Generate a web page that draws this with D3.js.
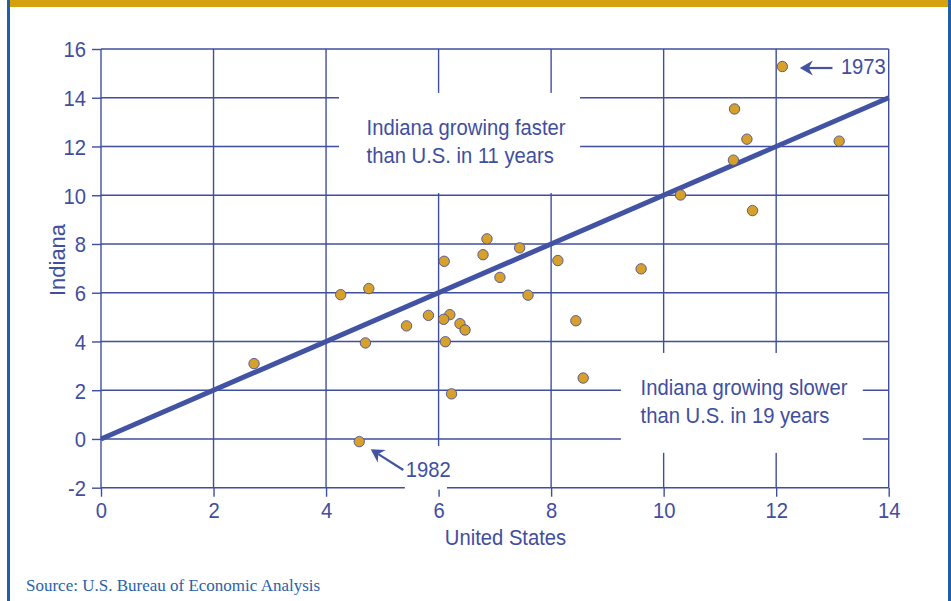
<!DOCTYPE html>
<html>
<head>
<meta charset="utf-8">
<script src="https://cdn.jsdelivr.net/npm/d3@7"></script>
<style>
  html, body { margin: 0; padding: 0; background: #fff; }
  svg { display: block; }
</style>
</head>
<body>
<svg id="chart" width="951" height="601"></svg>
<script>
// ---- Data ----
const usGrowth = [2.72, 4.26, 4.76, 4.70, 4.59, 5.43, 5.82, 6.10, 6.20, 6.09, 6.38, 6.47, 6.12, 6.23, 6.79,
                  6.86, 7.44, 7.09, 7.59, 8.12, 8.44, 8.57, 9.60, 10.30, 11.58, 11.24, 11.48, 11.26, 13.12, 12.11];
const indianaGrowth = [3.09, 5.92, 6.17, 3.94, -0.11, 4.64, 5.07, 7.29, 5.10, 4.91, 4.73, 4.47, 3.99, 1.85, 7.56,
                       8.21, 7.84, 6.63, 5.90, 7.32, 4.85, 2.50, 6.98, 10.01, 9.37, 11.44, 12.30, 13.54, 12.22, 15.28];
const xTicks = [0, 2, 4, 6, 8, 10, 12, 14];
const yTicks = [-2, 0, 2, 4, 6, 8, 10, 12, 14, 16];
const xTickLabels = ["0", "2", "4", "6", "8", "10", "12", "14"];
const yTickLabels = ["-2", "0", "2", "4", "6", "8", "10", "12", "14", "16"];
const equalLine = [[0, 0], [14, 14]];
const xTitle = "United States";
const yTitle = "Indiana";
const fasterLabel = ["Indiana growing faster", "than U.S. in 11 years"];
const slowerLabel = ["Indiana growing slower", "than U.S. in 19 years"];
const label1973 = "1973";
const label1982 = "1982";
const sourceText = "Source: U.S. Bureau of Economic Analysis";

// ---- Styles ----
const BLUE = "#3f4e9f";
const LINE_BLUE = "#4353a4";
const GOLD = "#d5a10f";
const DOT = "#d6a02a";
const BORDER = "#1f5ea8";
const SX = 0.92; // horizontal condensing of the sans text

const svg = d3.select("#chart");
const W = 951, H = 601;

// frame decorations
svg.append("rect").attr("x", 0).attr("y", 0).attr("width", W).attr("height", H).attr("fill", "#fff");
svg.append("rect").attr("x", 10).attr("y", 0).attr("width", W - 13).attr("height", 7).attr("fill", GOLD);
svg.append("rect").attr("x", 7).attr("y", 0).attr("width", 3).attr("height", H).attr("fill", BORDER);
svg.append("rect").attr("x", 948).attr("y", 0).attr("width", 3).attr("height", H).attr("fill", BORDER);

const x = d3.scaleLinear().domain([0, 14]).range([101, 888.7]);
const y = d3.scaleLinear().domain([-2, 16]).range([487.7, 49]);

const font = "'Liberation Sans', Arial, Helvetica, sans-serif";

function sansText(g, px, py, str, size, anchor, sx) {
  return g.append("text")
    .attr("transform", `translate(${px},${py}) scale(${sx},1)`)
    .attr("font-family", font)
    .attr("font-size", size)
    .attr("fill", BLUE)
    .attr("text-anchor", anchor)
    .text(str);
}

// grid
const grid = svg.append("g").attr("stroke", BLUE).attr("stroke-width", 1.4);
grid.selectAll("line.v").data(xTicks).join("line")
  .attr("x1", d => x(d)).attr("x2", d => x(d))
  .attr("y1", y(-2)).attr("y2", y(16));
grid.selectAll("line.h").data(yTicks).join("line")
  .attr("y1", d => y(d)).attr("y2", d => y(d))
  .attr("x1", x(0)).attr("x2", x(14));

// axes (outer ticks + labels)
const yAxis = svg.append("g").attr("transform", `translate(${x(0)},0)`)
  .call(d3.axisLeft(y).tickValues(yTicks).tickSize(9).tickSizeOuter(0)
    .tickFormat((d, i) => yTickLabels[i]));
const xAxis = svg.append("g").attr("transform", `translate(0,${y(-2)})`)
  .call(d3.axisBottom(x).tickValues(xTicks).tickSize(9).tickSizeOuter(0)
    .tickFormat((d, i) => xTickLabels[i]));
[yAxis, xAxis].forEach(a => {
  a.select(".domain").remove();
  a.selectAll(".tick line").attr("stroke", BLUE).attr("stroke-width", 1.4);
  a.selectAll(".tick text").attr("fill", BLUE).attr("font-family", font).attr("font-size", 22);
});
yAxis.selectAll(".tick text").attr("x", -15 / SX).attr("dy", "0.36em").attr("transform", `scale(${SX},1)`);
xAxis.selectAll(".tick text").attr("y", 30.5).attr("dy", 0).attr("transform", `scale(${SX},1)`);

// white label boxes masking the grid
const boxes = [
  [4.23, 8.515, 14.2, 10.09],
  [9.24, 13.54, 3.53, -0.57],
  [5.40, 6.15, -0.29, -2.08]
];
svg.append("g").selectAll("rect").data(boxes).join("rect")
  .attr("x", d => x(d[0])).attr("width", d => x(d[1]) - x(d[0]))
  .attr("y", d => y(d[2])).attr("height", d => y(d[3]) - y(d[2]))
  .attr("fill", "#fff");

// y = x line
svg.append("path")
  .attr("d", d3.line().x(d => x(d[0])).y(d => y(d[1]))(equalLine))
  .attr("stroke", LINE_BLUE).attr("stroke-width", 5).attr("fill", "none");

// points
svg.append("g").selectAll("circle").data(usGrowth).join("circle")
  .attr("cx", d => x(d))
  .attr("cy", (d, i) => y(indianaGrowth[i]))
  .attr("r", 5.2)
  .attr("fill", DOT)
  .attr("stroke", "#4a5294")
  .attr("stroke-width", 0.9);

// annotations
const ann = svg.append("g");
sansText(ann, x(4.72), y(12.47), fasterLabel[0], 22, "start", SX);
sansText(ann, x(4.72), y(11.33), fasterLabel[1], 22, "start", SX);
sansText(ann, x(9.59), y(1.805), slowerLabel[0], 22, "start", SX);
sansText(ann, x(9.59), y(0.67), slowerLabel[1], 22, "start", SX);
sansText(ann, x(13.15), y(14.99), label1973, 22, "start", SX);
sansText(ann, x(5.416), y(-1.547), label1982, 22, "start", SX);

function arrow(g, tipX, tipY, tailX, tailY) {
  const dx = tailX - tipX, dy = tailY - tipY;
  const len = Math.hypot(dx, dy);
  const ux = dx / len, uy = dy / len;
  const px = -uy, py = ux;
  const hl = 13, hw = 7.5, notch = 9;
  const bx = tipX + ux * hl, by = tipY + uy * hl;
  const nx = tipX + ux * notch, ny = tipY + uy * notch;
  g.append("line").attr("x1", nx).attr("y1", ny).attr("x2", tailX).attr("y2", tailY)
    .attr("stroke", LINE_BLUE).attr("stroke-width", 2.2);
  g.append("path")
    .attr("d", `M${tipX},${tipY}L${bx + px * hw},${by + py * hw}L${nx},${ny}L${bx - px * hw},${by - py * hw}Z`)
    .attr("fill", LINE_BLUE);
}
arrow(ann, x(12.42), y(15.22), x(13.0), y(15.22));
arrow(ann, x(4.794), y(-0.423), x(5.373), y(-1.272));

// axis titles
sansText(svg, 505.5, 545, xTitle, 22, "middle", SX);
svg.append("text")
  .attr("transform", "translate(65,260) rotate(-90)")
  .attr("font-family", font).attr("font-size", 22).attr("fill", BLUE)
  .attr("text-anchor", "middle").text(yTitle);

// source
svg.append("text")
  .attr("x", 26).attr("y", 590.5)
  .attr("font-family", "'Liberation Serif', 'Times New Roman', serif")
  .attr("font-size", 17)
  .attr("fill", "#2a62a8")
  .text(sourceText);
</script>
</body>
</html>
